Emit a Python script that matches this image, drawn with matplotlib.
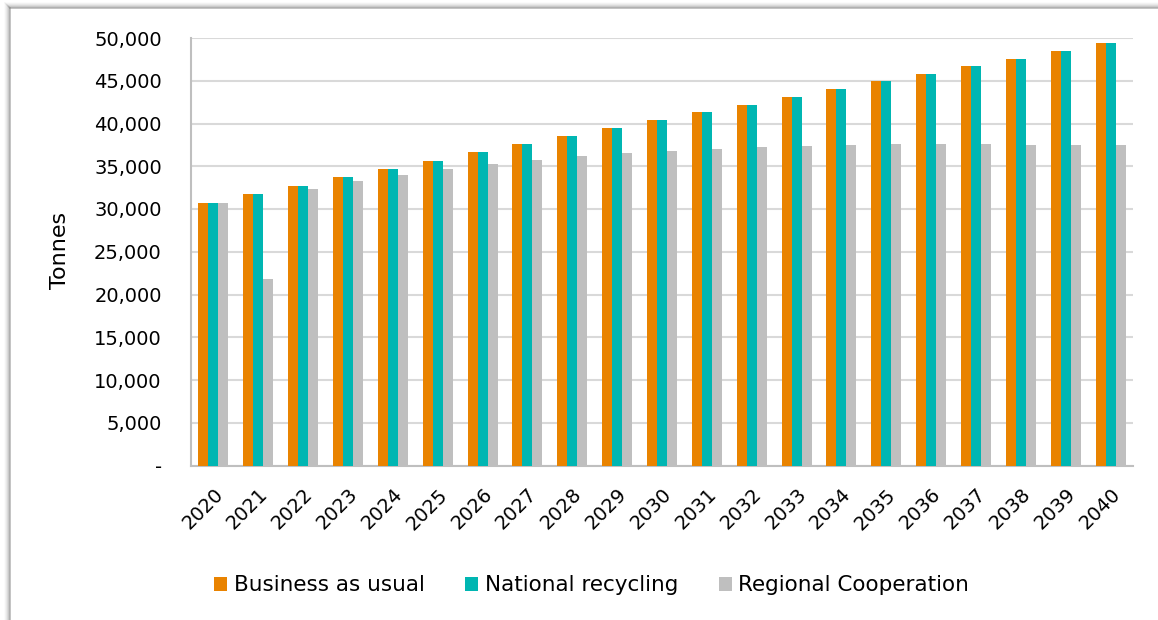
import matplotlib
matplotlib.use("Agg")
import matplotlib.pyplot as plt
import numpy as np
from matplotlib.ticker import FuncFormatter, MultipleLocator
from matplotlib.lines import Line2D

years = [str(y) for y in range(2020, 2041)]
business_as_usual = [30700, 31720, 32730, 33700, 34680, 35650, 36620, 37600, 38530, 39460,
                     40380, 41300, 42190, 43130, 44020, 44920, 45820, 46670, 47570, 48460, 49390]
national_recycling = [30700, 31720, 32730, 33700, 34680, 35650, 36620, 37600, 38530, 39460,
                      40380, 41300, 42190, 43130, 44020, 44920, 45820, 46670, 47570, 48460, 49390]
regional_cooperation = [30700, 21790, 32380, 33240, 34020, 34640, 35220, 35690, 36160, 36510,
                        36800, 37050, 37240, 37400, 37520, 37560, 37600, 37560, 37520, 37520, 37440]
series_names = ["Business as usual", "National recycling", "Regional Cooperation"]
colors = ["#E98300", "#00B6B2", "#BFBFBF"]

plt.rcParams['font.family'] = ['DejaVu Sans']

fig = plt.figure(figsize=(11.58, 6.2), dpi=100)
ax = fig.add_axes([191/1158, 1 - 465.5/620, 942/1158, 427.5/620])

x = np.arange(len(years))
w = 0.222
for i, (vals, name, c) in enumerate(zip([business_as_usual, national_recycling, regional_cooperation],
                                        series_names, colors)):
    ax.bar(x + (i - 1) * w, vals, width=w, color=c, label=name, zorder=3)

ax.set_xlim(-0.5, len(years) - 0.5)
ax.set_ylim(0, 50000)
ax.yaxis.set_major_locator(MultipleLocator(5000))
ax.yaxis.set_major_formatter(FuncFormatter(lambda v, p: "-" if v == 0 else f"{int(v):,}"))
ax.grid(axis='y', color='#D9D9D9', linewidth=1.5, zorder=0)
ax.set_axisbelow(True)
for s in ['top', 'right']:
    ax.spines[s].set_visible(False)
for s in ['left', 'bottom']:
    ax.spines[s].set_color('#BFBFBF')
    ax.spines[s].set_linewidth(1.5)
ax.tick_params(axis='both', length=0, labelsize=14, colors='black')
ax.tick_params(axis='y', pad=21)
ax.tick_params(axis='x', pad=14)
ax.set_xticks(x)
ax.set_xticklabels(years, rotation=45, ha='right', va='top', rotation_mode='anchor')
ax.set_ylabel("Tonnes", fontsize=16)
ax.yaxis.set_label_coords(-0.128, 0.504)

fig.legend(loc='center', bbox_to_anchor=(0.511, 0.056), ncol=3, frameon=False,
           fontsize=15.5, handlelength=0.6, handleheight=0.6, handletextpad=0.3,
           columnspacing=1.9)

# frame shadow on top and left edges
for k, a in enumerate([0.55, 0.35, 0.22, 0.14, 0.08, 0.04]):
    fig.add_artist(Line2D([10/1158 - k/1158, 10/1158 - k/1158], [0, 1 - (8 - k)/620],
                          color='#808080', alpha=a, linewidth=1.2, transform=fig.transFigure))
    fig.add_artist(Line2D([(10 - k)/1158, 1], [1 - (8 - k)/620, 1 - (8 - k)/620],
                          color='#808080', alpha=a, linewidth=1.2, transform=fig.transFigure))

fig.savefig("out.png", dpi=100)
